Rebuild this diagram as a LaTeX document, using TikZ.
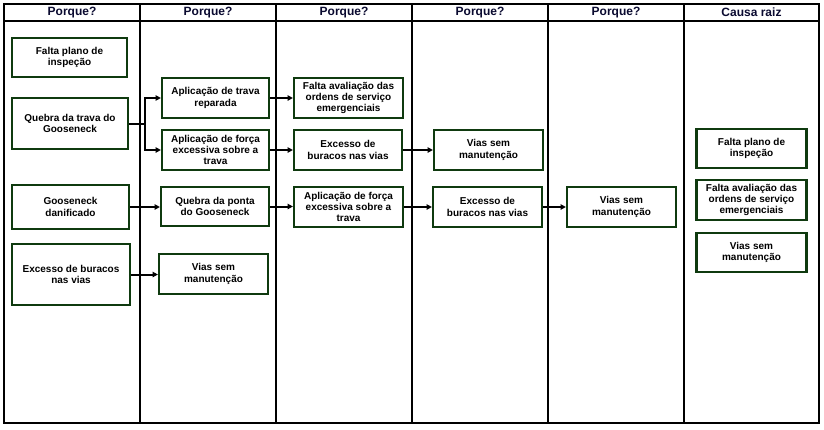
\documentclass[tikz,border=0pt]{standalone}
\usepackage{fontspec}
\setmainfont{Liberation Sans}
\usetikzlibrary{arrows.meta}
\definecolor{boxgreen}{HTML}{0F3A0F}
\definecolor{headnavy}{HTML}{0A0A30}
\begin{document}
\begin{tikzpicture}[x=0.75pt,y=-0.75pt,
  box/.style 2 args={draw=boxgreen, line width=1.6pt, fill=white, align=center,
    minimum width=#1*0.75pt, minimum height=#2*0.75pt, inner sep=0pt,
    font=\fontsize{7.5pt}{8.4pt}\selectfont\bfseries},
  head/.style={font=\fontsize{9pt}{10pt}\selectfont\bfseries, text=headnavy, inner sep=0pt},
  conn/.style={line width=1.5pt, -{Triangle[length=4pt,width=4pt]}},
  plain/.style={line width=1.5pt},
  frame/.style={line width=1.5pt}]
\useasboundingbox (0,0) rectangle (824,429);
\fill[white] (0,0) rectangle (824,429);
% table frame
\draw[frame] (4,4) rectangle (819,423);
\draw[frame] (4,21) -- (819,21);
\foreach \xx in {140,276,412,548,684} \draw[frame] (\xx,4) -- (\xx,423);
% headers
\node[head] (h1) at (72,12.5) {Porque?};
\node[head] (h2) at (208,12.5) {Porque?};
\node[head] (h3) at (344,12.5) {Porque?};
\node[head] (h4) at (480,12.5) {Porque?};
\node[head] (h5) at (616,12.5) {Porque?};
\node[head] (h6) at (751.5,12.5) {Causa raiz};
% column 1
\node[box={115}{39}] (a1) at (69.5,57.5) {Falta plano de\\inspeção};
\node[box={116}{51}] (a2) at (70,123.5) {Quebra da trava do\\Gooseneck};
\node[box={117}{44}] (a3) at (70.5,207) {Gooseneck\\danificado};
\node[box={118}{61}] (a4) at (71,274.5) {Excesso de buracos\\nas vias};
% column 2
\node[box={107}{40}] (b1) at (215.5,98) {Aplicação de trava\\reparada};
\node[box={107}{40}] (b2) at (215.5,150) {Aplicação de força\\excessiva sobre a\\trava};
\node[box={108}{39}] (b3) at (215,206.5) {Quebra da ponta\\do Gooseneck};
\node[box={109}{40}] (b4) at (213.5,274) {Vias sem\\manutenção};
% column 3
\node[box={109}{40}] (c1) at (348.5,98) {Falta avaliação das\\ordens de serviço\\emergenciais};
\node[box={108}{40}] (c2) at (348,150) {Excesso de\\buracos nas vias};
\node[box={109}{40}] (c3) at (348.5,207) {Aplicação de força\\excessiva sobre a\\trava};
% column 4
\node[box={109}{40}] (d1) at (488.5,150) {Vias sem\\manutenção};
\node[box={109}{40}] (d2) at (487.5,207) {Excesso de\\buracos nas vias};
% column 5
\node[box={109}{40}] (e1) at (621.5,207) {Vias sem\\manutenção};
% column 6
\node[box={110}{39}] (f1) at (751.5,148.5) {Falta plano de\\inspeção};
\node[box={110}{40}] (f2) at (751.5,200) {Falta avaliação das\\ordens de serviço\\emergenciais};
\node[box={110}{39}] (f3) at (751.5,252.5) {Vias sem\\manutenção};
% connectors
\coordinate (split) at (145,123.5);
\draw[plain] (a2.east) -- (split);
\draw[conn] (split) |- (b1.west);
\draw[conn] (split) |- (b2.west);
\draw[conn] (a3.east) -- (a3.east -| b3.west);
\draw[conn] (a4.east) -- (a4.east -| b4.west);
\draw[conn] (b1.east) -- (b1.east -| c1.west);
\draw[conn] (b2.east) -- (b2.east -| c2.west);
\draw[conn] (b3.east) -- (b3.east -| c3.west);
\draw[conn] (c2.east) -- (c2.east -| d1.west);
\draw[conn] (c3.east) -- (c3.east -| d2.west);
\draw[conn] (d2.east) -- (d2.east -| e1.west);
\end{tikzpicture}
\end{document}
